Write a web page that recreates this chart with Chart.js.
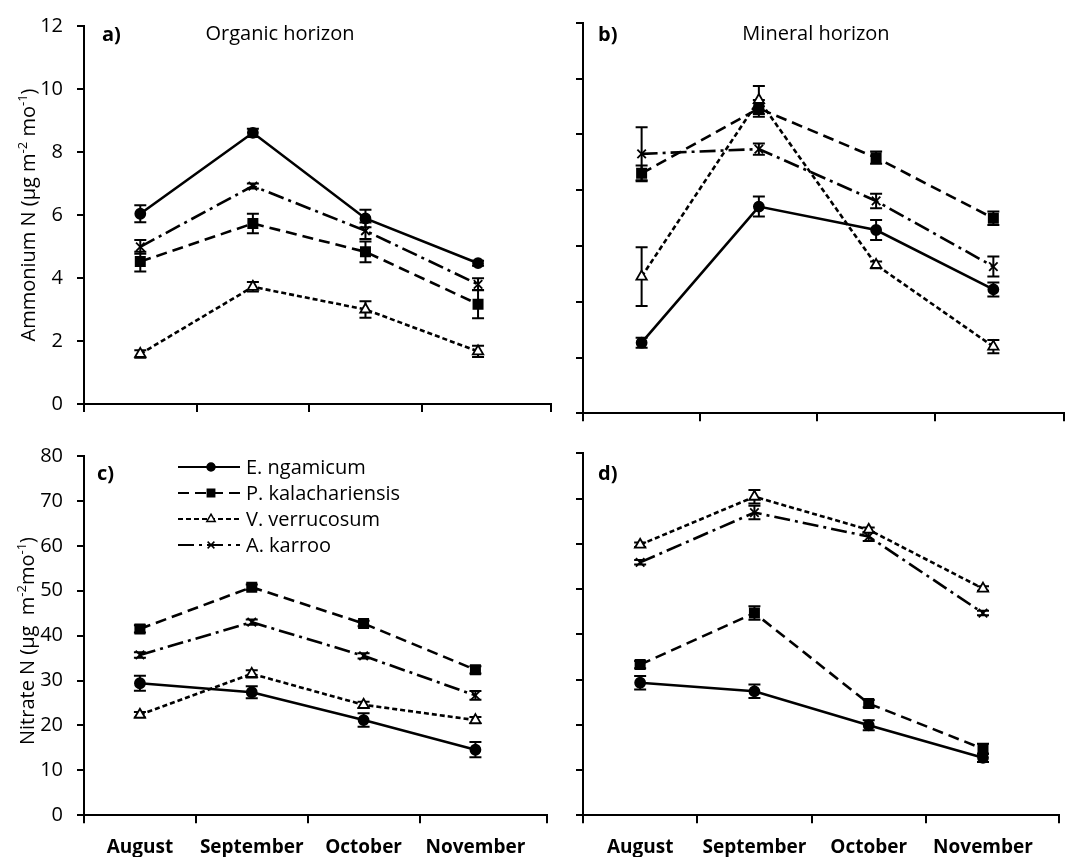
<!DOCTYPE html>
<html>
<head>
<meta charset="utf-8">
<script src="https://cdn.jsdelivr.net/npm/chart.js@4.4.0/dist/chart.umd.min.js"></script>
<style>
    body { margin: 0; background: #fff; }
    #wrap { position: relative; width: 1072px; height: 857px; overflow: hidden; background: #fff; }
    canvas { position: absolute; }
</style>
</head>
<body>
<div id="wrap">
    <canvas id="panelA" width="560" height="430" style="left:0;top:0"></canvas>
    <canvas id="panelB" width="512" height="430" style="left:560px;top:0"></canvas>
    <canvas id="panelC" width="560" height="427" style="left:0;top:430px"></canvas>
    <canvas id="panelD" width="512" height="427" style="left:560px;top:430px"></canvas>
</div>
<script>
const months = ['August', 'September', 'October', 'November'];
const species = ['E. ngamicum', 'P. kalachariensis', 'V. verrucosum', 'A. karroo'];

// y tick values
const ammTicks = [0, 2, 4, 6, 8, 10, 12];
const ammMinTicks = [0, 2, 4, 6, 8, 10, 12, 14];
const nitTicks = [0, 10, 20, 30, 40, 50, 60, 70, 80];

// a) ammonium, organic horizon  (rows = species, cols = months)
const ammOrgMean = [
    [6.04, 8.61, 5.89, 4.47],
    [4.52, 5.73, 4.83, 3.17],
    [1.59, 3.72, 3.00, 1.67],
    [4.99, 6.92, 5.50, 3.80]
];
const ammOrgErr = [
    [0.27, 0.13, 0.28, 0.08],
    [0.31, 0.31, 0.33, 0.45],
    [0.12, 0.15, 0.26, 0.18],
    [0.22, 0.08, 0.26, 0.19]
];

// b) ammonium, mineral horizon
const ammMinMean = [
    [2.53, 7.41, 6.57, 4.44],
    [8.60, 10.93, 9.16, 6.99],
    [4.90, 11.23, 5.32, 2.39],
    [9.30, 9.47, 7.61, 5.26]
];
const ammMinErr = [
    [0.18, 0.36, 0.36, 0.25],
    [0.28, 0.30, 0.22, 0.24],
    [1.05, 0.50, 0.12, 0.24],
    [0.95, 0.20, 0.26, 0.36]
];

// c) nitrate, organic horizon
const nitOrgMean = [
    [29.4, 27.4, 21.2, 14.6],
    [41.5, 50.8, 42.7, 32.4],
    [22.4, 31.5, 24.6, 21.2],
    [35.7, 43.0, 35.5, 26.7]
];
const nitOrgErr = [
    [1.65, 1.36, 1.5, 1.7],
    [0.8, 0.6, 0.6, 0.8],
    [0.6, 0.8, 0.7, 0.7],
    [0.6, 0.6, 0.6, 1.0]
];

// d) nitrate, mineral horizon
const nitMinMean = [
    [29.3, 27.4, 19.9, 12.7],
    [33.3, 44.7, 24.7, 14.7],
    [59.8, 70.4, 63.1, 50.1],
    [55.9, 66.9, 61.6, 44.7]
];
const nitMinErr = [
    [1.5, 1.5, 1.1, 0.9],
    [0.8, 1.5, 0.8, 1.1],
    [0.5, 1.5, 0.5, 0.5],
    [0.5, 1.5, 1.0, 0.5]
];

// series look
const lineDash = [[], [11, 6], [5, 3], [16, 5, 3, 5]];
const markers = ['circle', 'rect', 'triangle', 'crossRot'];
const markerSize = [5, 6.5, 6, 6];
const markerFill = ['#000', '#000', '#fff', '#000'];

const FONT = '"Open Sans", sans-serif';

function drawMarker(ctx, style, x, y, r, fill) {
    ctx.save();
    ctx.setLineDash([]);
    ctx.fillStyle = fill;
    ctx.strokeStyle = '#000';
    ctx.lineWidth = 1.5;
    ctx.beginPath();
    if (style === 'circle') {
        ctx.arc(x, y, r, 0, Math.PI * 2);
        ctx.fill(); ctx.stroke();
    } else if (style === 'rect') {
        const s = r * Math.SQRT1_2;
        ctx.rect(x - s, y - s, 2 * s, 2 * s);
        ctx.fill(); ctx.stroke();
    } else if (style === 'triangle') {
        ctx.moveTo(x, y - r);
        ctx.lineTo(x + r * 0.866, y + r * 0.5);
        ctx.lineTo(x - r * 0.866, y + r * 0.5);
        ctx.closePath();
        ctx.fill(); ctx.stroke();
    } else {
        const s = r * Math.SQRT1_2;
        ctx.moveTo(x - s, y - s); ctx.lineTo(x + s, y + s);
        ctx.moveTo(x - s, y + s); ctx.lineTo(x + s, y - s);
        ctx.stroke();
    }
    ctx.restore();
}

// vertical error bars with caps, placed through the chart scales
const errorBars = {
    id: 'errorBars',
    beforeDatasetsDraw(chart) {
        const ctx = chart.ctx;
        const xs = chart.scales.x;
        const ys = chart.scales.y;
        ctx.save();
        ctx.setLineDash([]);
        ctx.strokeStyle = '#000';
        ctx.lineWidth = 2;
        chart.data.datasets.forEach((ds) => {
            ds.data.forEach((p, i) => {
                const e = ds.errors[i];
                const x = xs.getPixelForValue(p.x);
                const y1 = ys.getPixelForValue(p.y + e);
                const y2 = ys.getPixelForValue(p.y - e);
                ctx.beginPath();
                ctx.moveTo(x, y1); ctx.lineTo(x, y2);
                ctx.moveTo(x - 6, y1); ctx.lineTo(x + 6, y1);
                ctx.moveTo(x - 6, y2); ctx.lineTo(x + 6, y2);
                ctx.stroke();
            });
        });
        ctx.restore();
    }
};

// panel letter, horizon title, rotated y title and the legend
const decor = {
    id: 'decor',
    afterDraw(chart, args, o) {
        const ctx = chart.ctx;
        ctx.save();
        ctx.fillStyle = '#000';
        ctx.textBaseline = 'alphabetic';
        ctx.textAlign = 'left';
        ctx.font = 'bold 20px ' + FONT;
        ctx.fillText(o.letter, o.letterX, o.letterY);

        if (o.title) {
            ctx.font = '500 20px ' + FONT;
            ctx.textAlign = 'center';
            ctx.fillText(o.title, o.titleX, o.titleY);
        }

        if (o.yTitle) {
            const big = '500 20px ' + FONT;
            const small = '500 13px ' + FONT;
            let total = 0;
            o.yTitle.forEach(([t, sup]) => {
                ctx.font = sup ? small : big;
                total += ctx.measureText(t).width;
            });
            ctx.translate(o.yTitleX, o.yTitleY);
            ctx.rotate(-Math.PI / 2);
            ctx.textAlign = 'left';
            let u = -total / 2;
            o.yTitle.forEach(([t, sup]) => {
                ctx.font = sup ? small : big;
                ctx.fillText(t, u, sup ? -8 : 0);
                u += ctx.measureText(t).width;
            });
            ctx.setTransform(1, 0, 0, 1, 0, 0);
        }

        if (o.legend) {
            const L = o.legend;
            species.forEach((name, s) => {
                const y = L.y + s * L.step;
                ctx.save();
                ctx.strokeStyle = '#000';
                ctx.lineWidth = 2.2;
                ctx.setLineDash(lineDash[s]);
                ctx.beginPath();
                ctx.moveTo(L.x0, y);
                ctx.lineTo(L.x1, y);
                ctx.stroke();
                ctx.restore();
                drawMarker(ctx, markers[s], L.xm, y, markerSize[s] * 0.8, markerFill[s]);
                ctx.font = '500 20px ' + FONT;
                ctx.textAlign = 'left';
                ctx.textBaseline = 'middle';
                ctx.fillText(name, L.tx, y + 1);
            });
        }
        ctx.restore();
    }
};

function makePanel(id, o) {
    const xTicks = [-0.5, 0, 0.5, 1, 1.5, 2, 2.5, 3, o.xMax];
    return new Chart(document.getElementById(id), {
        type: 'line',
        data: {
            datasets: species.map((name, s) => ({
                label: name,
                data: o.means[s].map((v, i) => ({ x: i, y: v })),
                errors: o.errs[s],
                borderColor: '#000',
                borderWidth: 2.6,
                borderDash: lineDash[s],
                pointStyle: markers[s],
                pointRadius: markerSize[s],
                pointBackgroundColor: markerFill[s],
                pointBorderColor: '#000',
                pointBorderWidth: 1.8,
                tension: 0,
                fill: false,
                clip: false
            }))
        },
        options: {
            responsive: false,
            animation: false,
            events: [],
            layout: { padding: o.pad },
            plugins: {
                legend: { display: false },
                tooltip: { enabled: false },
                decor: o.decor
            },
            scales: {
                x: {
                    type: 'linear',
                    bounds: 'data',
                    min: -0.5,
                    max: o.xMax,
                    afterBuildTicks: (sc) => { sc.ticks = xTicks.map((v) => ({ value: v })); },
                    afterFit: (sc) => { sc.height = o.xH; },
                    ticks: {
                        display: o.xLabels,
                        autoSkip: false,
                        maxRotation: 0,
                        padding: 13,
                        color: '#000',
                        font: { family: FONT, size: 19, weight: 'bold' },
                        callback: (v) => (Number.isInteger(v) ? months[v] : '')
                    },
                    grid: {
                        drawOnChartArea: false,
                        tickLength: 8,
                        lineWidth: 2,
                        color: (c) => (c.tick && Number.isInteger(c.tick.value) ? 'rgba(0,0,0,0)' : '#000')
                    },
                    border: { color: '#000', width: 2 }
                },
                y: {
                    type: 'linear',
                    min: 0,
                    max: o.yTicks[o.yTicks.length - 1],
                    afterBuildTicks: (sc) => { sc.ticks = o.yTicks.map((v) => ({ value: v })); },
                    afterFit: (sc) => { sc.width = o.yW; },
                    ticks: {
                        display: o.yLabels,
                        padding: 14,
                        color: '#000',
                        font: { family: FONT, size: 20, weight: '500' }
                    },
                    grid: { drawOnChartArea: false, tickLength: 7, lineWidth: 2, color: '#000' },
                    border: { color: '#000', width: 2 }
                }
            }
        },
        plugins: [errorBars, decor]
    });
}

function build() {
    makePanel('panelA', {
        means: ammOrgMean, errs: ammOrgErr, yTicks: ammTicks,
        xMax: 3.648, xH: 18.3, yW: 84, xLabels: false, yLabels: true,
        pad: { top: 22.7, right: 9, left: 0, bottom: 0 },
        decor: {
            letter: 'a)', letterX: 102, letterY: 41,
            title: 'Organic horizon', titleX: 280, titleY: 40,
            yTitle: [['Ammonium N (µg m', false], ['-2', true], [' mo', false], ['-1', true], [')', false]],
            yTitleX: 35, yTitleY: 215
        }
    });
    makePanel('panelB', {
        means: ammMinMean, errs: ammMinErr, yTicks: ammMinTicks,
        xMax: 3.60, xH: 16.7, yW: 23, xLabels: false, yLabels: false,
        pad: { top: 22.7, right: 0, left: 0, bottom: 0 },
        decor: {
            letter: 'b)', letterX: 38, letterY: 41,
            title: 'Mineral horizon', titleX: 256, titleY: 40
        }
    });
    makePanel('panelC', {
        means: nitOrgMean, errs: nitOrgErr, yTicks: nitTicks,
        xMax: 3.64, xH: 41.7, yW: 84, xLabels: true, yLabels: true,
        pad: { top: 23.3, right: 9, left: 0, bottom: 0 },
        decor: {
            letter: 'c)', letterX: 97, letterY: 50,
            yTitle: [['Nitrate N (µg  m', false], ['-2', true], ['mo', false], ['-1', true], [')', false]],
            yTitleX: 34, yTitleY: 211,
            legend: { x0: 178, x1: 240, xm: 211, tx: 246, y: 37, step: 26 }
        }
    });
    makePanel('panelD', {
        means: nitMinMean, errs: nitMinErr, yTicks: nitTicks,
        xMax: 3.665, xH: 41.7, yW: 23, xLabels: true, yLabels: false,
        pad: { top: 23.3, right: 3, left: 0, bottom: 0 },
        decor: { letter: 'd)', letterX: 38, letterY: 50 }
    });
}

Promise.all([
    document.fonts.load('20px "Open Sans"'),
    document.fonts.load('500 20px "Open Sans"'),
    document.fonts.load('bold 20px "Open Sans"')
]).then(build, build);
</script>
</body>
</html>
